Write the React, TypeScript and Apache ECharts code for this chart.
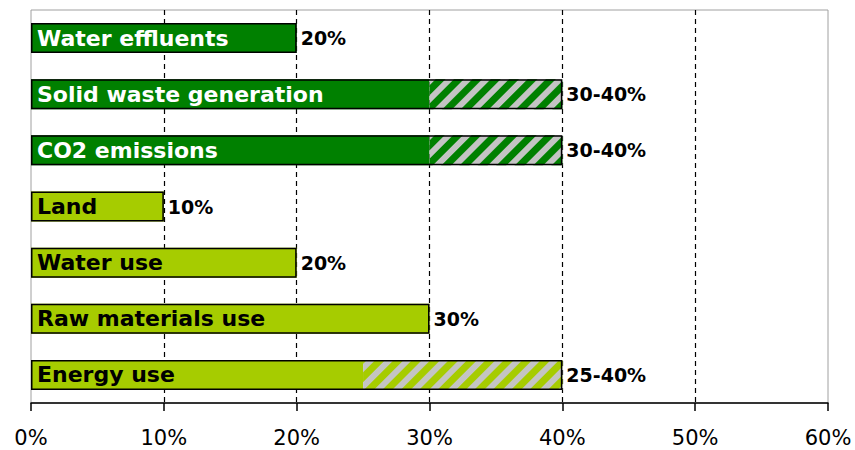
import React, { useEffect, useRef } from "react";
import * as echarts from "echarts";

const categories = [
  "Water effluents",
  "Solid waste generation",
  "CO2 emissions",
  "Land",
  "Water use",
  "Raw materials use",
  "Energy use",
];
const lowValues = [20, 30, 30, 10, 20, 30, 25];
const highValues = [20, 40, 40, 10, 20, 30, 40];
const groups = ["output", "output", "output", "input", "input", "input", "input"];
const xTicks = [0, 10, 20, 30, 40, 50, 60];

const DARK = "#008000";
const LIGHT = "#a6cc00";
const HATCH_BG = "#c4c4c4";

export default function App() {
  const ref = useRef<HTMLDivElement>(null);
  useEffect(() => {
    if (!ref.current) return;
    document.body.style.margin = "0";
    const chart = echarts.init(ref.current, undefined, { renderer: "svg" });
    const colorOf = (i: number) => (groups[i] === "output" ? DARK : LIGHT);
    const rangeLabels = lowValues.map((lo, i) =>
      lo === highValues[i] ? `${lo}%` : `${lo}-${highValues[i]}%`
    );
    const nameFont = { fontFamily: "DejaVu Sans", fontWeight: "bold" as const };
    chart.setOption({
      animation: false,
      grid: {
        left: 31,
        right: 27,
        top: 10,
        bottom: 47,
        show: true,
        borderColor: "#a0a0a0",
        borderWidth: 1,
      },
      xAxis: {
        type: "value",
        min: xTicks[0],
        max: xTicks[xTicks.length - 1],
        interval: 10,
        axisLine: { show: true, lineStyle: { color: "#000", width: 1.5 } },
        axisTick: { show: true, length: 8, lineStyle: { color: "#000", width: 1.5 } },
        axisLabel: {
          formatter: "{value}%",
          color: "#000",
          fontFamily: "DejaVu Sans",
          fontSize: 21,
          margin: 24,
        },
        splitLine: {
          show: true,
          lineStyle: {
            color: ["rgba(0,0,0,0)", "#000", "#000", "#000", "#000", "#000", "rgba(0,0,0,0)"],
            type: [5, 4],
            width: 1.2,
          },
        },
      },
      yAxis: {
        type: "category",
        data: categories,
        inverse: true,
        axisLine: { show: false },
        axisTick: { show: false },
        axisLabel: { show: false },
      },
      series: [
        {
          type: "bar",
          stack: "total",
          barWidth: 30,
          barGap: "-100%",
          data: lowValues.map((v, i) => ({
            value: v,
            itemStyle: { color: colorOf(i) },
            label: { color: groups[i] === "output" ? "#fff" : "#000" },
          })),
          label: {
            show: true,
            position: "insideLeft",
            distance: 6,
            formatter: (p: any) => p.name,
            fontSize: 22,
            ...nameFont,
          },
          z: 2,
        },
        {
          type: "bar",
          stack: "total",
          barWidth: 30,
          barGap: "-100%",
          data: highValues.map((v, i) => ({
            value: v - lowValues[i],
            itemStyle: {
              color: HATCH_BG,
              decal: {
                symbol: "rect",
                symbolSize: 1,
                dashArrayX: [1, 0],
                dashArrayY: [6.5, 6],
                rotation: -Math.PI / 4,
                color: colorOf(i),
              },
            },
          })),
          z: 2,
        },
        {
          type: "bar",
          barWidth: 30,
          barGap: "-100%",
          data: highValues.map((v) => v),
          itemStyle: {
            color: "rgba(0,0,0,0)",
            borderColor: "#000",
            borderWidth: 1.5,
          },
          label: {
            show: true,
            position: "right",
            distance: 4,
            color: "#000",
            fontSize: 19,
            formatter: (p: any) => rangeLabels[p.dataIndex],
            ...nameFont,
          },
          z: 3,
        },
      ],
    });
    return () => chart.dispose();
  }, []);
  return <div ref={ref} style={{ width: 855, height: 450 }} />;
}
